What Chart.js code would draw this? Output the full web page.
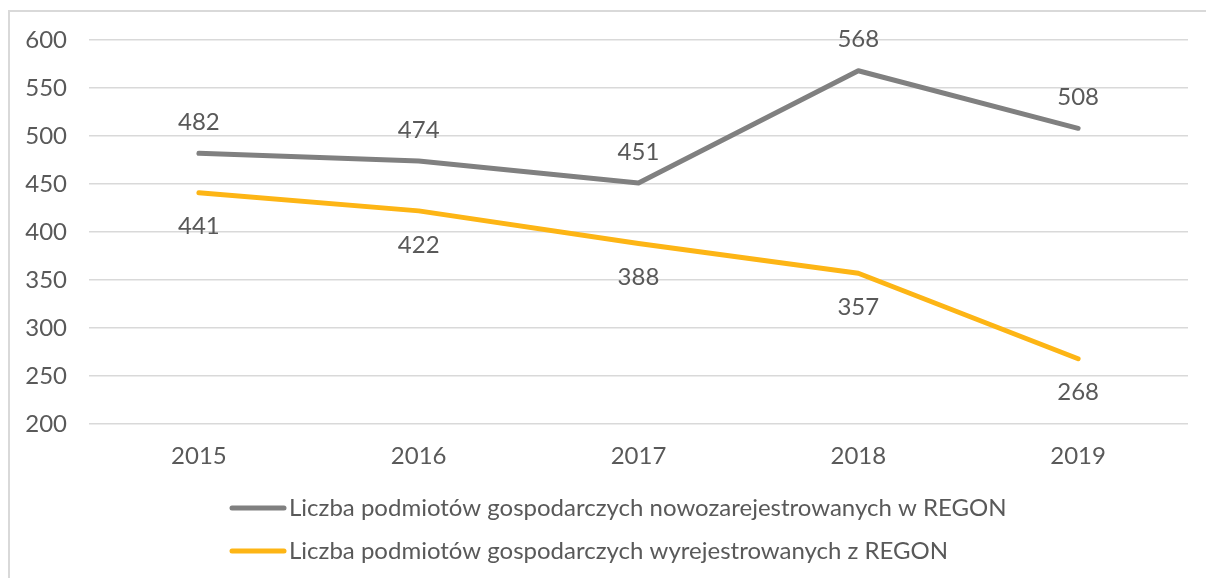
<!DOCTYPE html>
<html lang="pl">
<head>
<meta charset="utf-8">
<title>Podmioty gospodarcze w REGON 2015–2019</title>
<script src="https://cdn.jsdelivr.net/npm/chart.js@4/dist/chart.umd.min.js"></script>
<style>
  html, body { margin: 0; padding: 0; background: #ffffff; overflow: hidden; }
  #wrap { position: relative; width: 1206px; height: 578px; }
  #frame {
    position: absolute; left: 8px; top: 10px; width: 1300px; height: 700px;
    border-left: 2px solid #d9d9d9; border-top: 2px solid #d9d9d9;
  }
  canvas { position: absolute; left: 0; top: 0; }
</style>
</head>
<body>
<div id="wrap">
  <div id="frame"></div>
  <canvas id="chart" width="1206" height="578"></canvas>
</div>
<script>
// Lata i wartości serii
const years = ['2015', '2016', '2017', '2018', '2019'];
const registered = [482, 474, 451, 568, 508];
const deregistered = [441, 422, 388, 357, 268];
const seriesNames = [
  'Liczba podmiotów gospodarczych nowozarejestrowanych w REGON',
  'Liczba podmiotów gospodarczych wyrejestrowanych z REGON'
];
const yTicks = [200, 250, 300, 350, 400, 450, 500, 550, 600];

const TEXT = '#595959';
const FONT = 'Lato, "DejaVu Sans", sans-serif';
const FSIZE = 24;
const GREY = '#808080';
const GOLD = '#FDB515';

// Etykiety wartości: nad szarą linią, pod żółtą
const valueLabels = {
  id: 'valueLabels',
  afterDatasetsDraw(chart) {
    const ctx = chart.ctx;
    ctx.save();
    ctx.font = FSIZE + 'px ' + FONT;
    ctx.fillStyle = TEXT;
    ctx.textAlign = 'center';
    ctx.textBaseline = 'middle';
    chart.data.datasets.forEach((ds, i) => {
      const meta = chart.getDatasetMeta(i);
      const dy = i === 0 ? -31 : 34;
      meta.data.forEach((pt, j) => {
        ctx.fillText(String(ds.data[j]), pt.x, pt.y + dy);
      });
    });
    ctx.restore();
  }
};

// Legenda w dwóch wierszach, wyrównana do lewej krawędzi
const stackedLegend = {
  id: 'stackedLegend',
  afterDraw(chart) {
    const ctx = chart.ctx;
    ctx.save();
    ctx.font = FSIZE + 'px ' + FONT;
    ctx.textBaseline = 'middle';
    ctx.textAlign = 'left';
    const x0 = 232, swatch = 52, rowTop = 508, rowGap = 43;
    chart.data.datasets.forEach((ds, i) => {
      const y = rowTop + i * rowGap;
      ctx.strokeStyle = ds.borderColor;
      ctx.lineWidth = 5;
      ctx.lineCap = 'round';
      ctx.beginPath();
      ctx.moveTo(x0, y);
      ctx.lineTo(x0 + swatch, y);
      ctx.stroke();
      ctx.fillStyle = TEXT;
      ctx.fillText(ds.label, x0 + swatch + 5, y);
    });
    ctx.restore();
  }
};

new Chart(document.getElementById('chart'), {
  type: 'line',
  data: {
    labels: years,
    datasets: [
      {
        label: seriesNames[0],
        data: registered,
        borderColor: GREY,
        backgroundColor: GREY,
        borderWidth: 5,
        borderCapStyle: 'round',
        borderJoinStyle: 'round',
        pointRadius: 0,
        tension: 0
      },
      {
        label: seriesNames[1],
        data: deregistered,
        borderColor: GOLD,
        backgroundColor: GOLD,
        borderWidth: 5,
        borderCapStyle: 'round',
        borderJoinStyle: 'round',
        pointRadius: 0,
        tension: 0
      }
    ]
  },
  options: {
    responsive: false,
    animation: false,
    layout: { padding: { left: 8, top: 40, right: 18, bottom: 100 } },
    plugins: {
      legend: { display: false },
      tooltip: { enabled: false }
    },
    scales: {
      x: {
        offset: true,
        grid: { display: false, drawTicks: false },
        border: { display: false },
        ticks: { color: TEXT, font: { family: FONT, size: FSIZE }, padding: 18 },
        afterFit(s) { s.height = 54; }
      },
      y: {
        min: 200,
        max: 600,
        afterBuildTicks(s) { s.ticks = yTicks.map(v => ({ value: v })); },
        grid: { color: '#d9d9d9', lineWidth: 1.5, drawTicks: false },
        border: { display: false },
        ticks: { color: TEXT, font: { family: FONT, size: FSIZE }, padding: 22 },
        afterFit(s) { s.width = 81; }
      }
    }
  },
  plugins: [valueLabels, stackedLegend]
});
</script>
</body>
</html>
